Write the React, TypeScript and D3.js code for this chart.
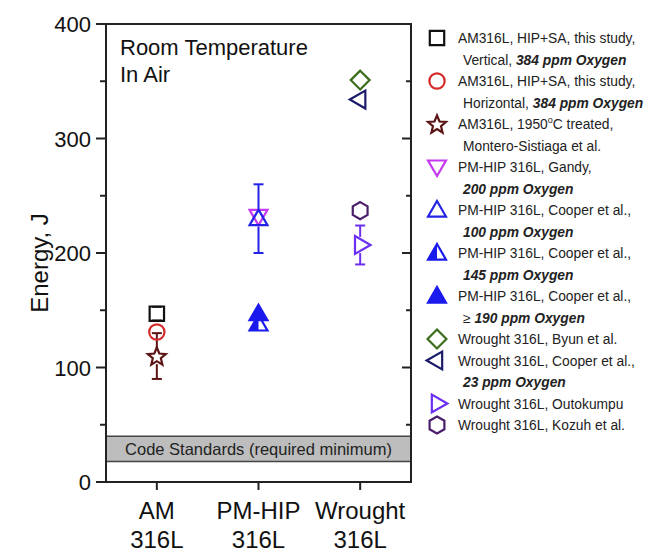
import React from 'react';
import * as d3 from 'd3';

// categories on the x axis
const categories = [
  ['AM', '316L'],
  ['PM-HIP', '316L'],
  ['Wrought', '316L'],
];

// one entry per data series
const seriesShape = ['square', 'circle', 'star', 'triDown', 'triUp', 'triHalf', 'triFilled', 'diamond', 'triLeft', 'triRight', 'hexagon'];
const seriesColor = ['#111111', '#d42a2a', '#5c1414', '#c53af0', '#2323e6', '#1a1aee', '#1a1aee', '#3a6e1e', '#1c1c6a', '#6c2ef0', '#4b1e6b'];
const seriesCategory = [1, 1, 1, 2, 2, 2, 2, 3, 3, 3, 3];
const seriesEnergy = [147, 131, 110, 232, 230, 138, 147, 351, 334, 207, 237];
const seriesError = [6, 0, 20, 0, 30, 0, 0, 0, 0, 17, 0];

// legend text; each series has a first line and a second line
const legendFirst = [
  'AM316L, HIP+SA, this study,',
  'AM316L, HIP+SA, this study,',
  'AM316L, 1950',
  'PM-HIP 316L, Gandy,',
  'PM-HIP 316L, Cooper et al.,',
  'PM-HIP 316L, Cooper et al.,',
  'PM-HIP 316L, Cooper et al.,',
  'Wrought 316L, Byun et al.',
  'Wrought 316L, Cooper et al.,',
  'Wrought 316L, Outokumpu',
  'Wrought 316L, Kozuh et al.',
];
const legendSecondPlain = ['Vertical, ', 'Horizontal, ', 'Montero-Sistiaga et al.', '', '', '', '\u2265 ', null, '', null, null];
const legendSecondBold = ['384 ppm Oxygen', '384 ppm Oxygen', '', '200 ppm Oxygen', '100 ppm Oxygen', '145 ppm Oxygen', '190 ppm Oxygen', null, '23 ppm Oxygen', null, null];

const yTicks = [0, 100, 200, 300, 400];
const yMinorTicks = [50, 150, 250, 350];
const codeBand = [18, 40];

const FONT = '"Liberation Sans", Arial, sans-serif';

function markerPath(shape: string, r: number): string {
  const poly = (pts: [number, number][]) => 'M' + pts.map((p) => p.join(',')).join('L') + 'Z';
  const tri = (rot: number) => {
    const pts: [number, number][] = [];
    for (let i = 0; i < 3; i++) {
      const a = rot + (i * 2 * Math.PI) / 3;
      pts.push([r * 1.15 * Math.sin(a), -r * 1.15 * Math.cos(a) + (rot === 0 ? r * 0.15 : rot === Math.PI ? -r * 0.15 : 0)]);
    }
    return poly(pts);
  };
  switch (shape) {
    case 'square':
      return poly([[-r * 0.8, -r * 0.8], [r * 0.8, -r * 0.8], [r * 0.8, r * 0.8], [-r * 0.8, r * 0.8]]);
    case 'circle':
      return d3.arc()({ innerRadius: 0, outerRadius: r * 0.85, startAngle: 0, endAngle: 2 * Math.PI }) as string;
    case 'star': {
      const pts: [number, number][] = [];
      for (let i = 0; i < 10; i++) {
        const a = (i * Math.PI) / 5;
        const rr = i % 2 === 0 ? r * 1.05 : r * 0.47;
        pts.push([rr * Math.sin(a), -rr * Math.cos(a) + r * 0.1]);
      }
      return poly(pts);
    }
    case 'triUp':
    case 'triFilled':
    case 'triHalf':
      return tri(0);
    case 'triDown':
      return tri(Math.PI);
    case 'triLeft':
      return tri(-Math.PI / 2);
    case 'triRight':
      return tri(Math.PI / 2);
    case 'diamond':
      return poly([[0, -r * 1.05], [r * 1.05, 0], [0, r * 1.05], [-r * 1.05, 0]]);
    case 'hexagon': {
      const pts: [number, number][] = [];
      for (let i = 0; i < 6; i++) {
        const a = (i * Math.PI) / 3;
        pts.push([r * 0.95 * Math.sin(a), -r * 0.95 * Math.cos(a)]);
      }
      return poly(pts);
    }
  }
  return '';
}

const Marker: React.FC<{ shape: string; color: string; x: number; y: number; r: number }> = ({ shape, color, x, y, r }) => {
  const d = markerPath(shape, r);
  const filled = shape === 'triFilled';
  const t = 1.15 * r;
  return (
    <g transform={`translate(${x},${y})`}>
      {shape === 'triHalf' && (
        <path d={`M0,${-t + r * 0.15}L${-t * 0.866},${t * 0.5 + r * 0.15}L0,${t * 0.5 + r * 0.15}Z`} fill={color} />
      )}
      <path d={d} fill={filled ? color : 'none'} stroke={color} strokeWidth={2.2} strokeLinejoin="miter" />
    </g>
  );
};

export default function App() {
  const width = 646;
  const height = 552;
  const margin = { top: 24, right: 235, bottom: 70, left: 106 };
  const x = d3.scaleLinear().domain([0.5, 3.5]).range([margin.left, width - margin.right]);
  const y = d3.scaleLinear().domain([0, 400]).range([height - margin.bottom, margin.top]);
  const x0 = x.range()[0];
  const x1 = x.range()[1];
  const r = 9;
  const axisColor = '#222';

  const legendX = 437;
  const legendY0 = 38;
  const lineH = 21.5;

  // each series takes two legend lines unless it has no second line
  let line = 0;
  const legendRows = legendFirst.map((_, i) => {
    const row = line;
    line += legendSecondPlain[i] === null ? 1 : 2;
    return row;
  });

  return (
    <svg width={width} height={height} style={{ position: 'absolute', left: 0, top: 0 }} fontFamily={FONT}>
      <rect width={width} height={height} fill="#fff" />

      {/* code standards band */}
      <rect x={x0} y={y(codeBand[1])} width={x1 - x0} height={y(codeBand[0]) - y(codeBand[1])} fill="#bdbdbd" />
      <line x1={x0} x2={x1} y1={y(codeBand[1])} y2={y(codeBand[1])} stroke="#444" strokeWidth={1.5} />
      <line x1={x0} x2={x1} y1={y(codeBand[0])} y2={y(codeBand[0])} stroke="#444" strokeWidth={1.5} />
      <text x={(x0 + x1) / 2} y={(y(codeBand[0]) + y(codeBand[1])) / 2 + 6} textAnchor="middle" fontSize={16.5} fill="#222">
        Code Standards (required minimum)
      </text>

      {/* frame */}
      <rect x={x0} y={y(400)} width={x1 - x0} height={y(0) - y(400)} fill="none" stroke={axisColor} strokeWidth={2} />

      {/* y ticks */}
      {yTicks.map((t) => (
        <g key={t}>
          <line x1={x0 - 10} x2={x0} y1={y(t)} y2={y(t)} stroke={axisColor} strokeWidth={2} />
          <line x1={x1 - 9} x2={x1} y1={y(t)} y2={y(t)} stroke={axisColor} strokeWidth={2} />
          <text x={x0 - 15} y={y(t) + 8} textAnchor="end" fontSize={22} fill="#111">
            {t}
          </text>
        </g>
      ))}
      {yMinorTicks.map((t) => (
        <g key={t}>
          <line x1={x0 - 6} x2={x0} y1={y(t)} y2={y(t)} stroke={axisColor} strokeWidth={2} />
          <line x1={x1 - 5} x2={x1} y1={y(t)} y2={y(t)} stroke={axisColor} strokeWidth={2} />
        </g>
      ))}

      {/* x ticks */}
      {categories.map((c, i) => (
        <g key={i}>
          <line x1={x(i + 1)} x2={x(i + 1)} y1={y(0)} y2={y(0) + 8} stroke={axisColor} strokeWidth={2} />
          <text x={x(i + 1)} y={y(0) + 37} textAnchor="middle" fontSize={24} fill="#111">
            {c[0]}
          </text>
          <text x={x(i + 1)} y={y(0) + 66} textAnchor="middle" fontSize={24} fill="#111">
            {c[1]}
          </text>
        </g>
      ))}

      {/* y label */}
      <text transform={`translate(48,${(y(0) + y(400)) / 2 + 10}) rotate(-90)`} textAnchor="middle" fontSize={24} fill="#111">
        Energy, J
      </text>

      {/* annotation */}
      <text x={x0 + 14} y={y(400) + 31} fontSize={22} fill="#111">
        Room Temperature
      </text>
      <text x={x0 + 14} y={y(400) + 58} fontSize={22} fill="#111">
        In Air
      </text>

      {/* error bars */}
      {seriesEnergy.map((v, i) => {
        const e = seriesError[i];
        if (!e) return null;
        const cx = x(seriesCategory[i]);
        const cy = y(v);
        const top = y(v + e);
        const bot = y(v - e);
        const gap = r * 0.9;
        const color = seriesColor[i];
        return (
          <g key={i} stroke={color} strokeWidth={2}>
            {cy - top > gap && <line x1={cx} x2={cx} y1={cy - gap} y2={top} />}
            {bot - cy > gap && <line x1={cx} x2={cx} y1={cy + gap} y2={bot} />}
            <line x1={cx - 5} x2={cx + 5} y1={top} y2={top} />
            <line x1={cx - 5} x2={cx + 5} y1={bot} y2={bot} />
          </g>
        );
      })}

      {/* markers */}
      {seriesEnergy.map((v, i) => (
        <Marker key={i} shape={seriesShape[i]} color={seriesColor[i]} x={x(seriesCategory[i])} y={y(v)} r={r} />
      ))}

      {/* legend */}
      {legendFirst.map((label, i) => {
        const ly = legendY0 + legendRows[i] * lineH;
        const plain = legendSecondPlain[i];
        const bold = legendSecondBold[i];
        return (
          <g key={i}>
            <Marker shape={seriesShape[i]} color={seriesColor[i]} x={legendX} y={ly} r={r} />
            <text x={458} y={ly + 5} fontSize={13.8} fill="#222">
              {label}
              {i === 2 && (
                <>
                  <tspan fontSize={9} dy={-6}>o</tspan>
                  <tspan dy={6}>C treated,</tspan>
                </>
              )}
            </text>
            {plain !== null && (
              <text x={463} y={ly + lineH + 5} fontSize={13.8} fill="#222">
                {plain}
                {bold && (
                  <tspan fontWeight="bold" fontStyle="italic">
                    {bold}
                  </tspan>
                )}
              </text>
            )}
          </g>
        );
      })}
    </svg>
  );
}
